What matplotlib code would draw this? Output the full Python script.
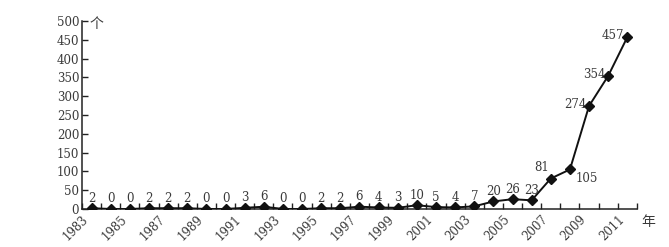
import matplotlib
matplotlib.use("Agg")
import matplotlib.pyplot as plt
import numpy as np

plt.rcParams['font.family'] = ['DejaVu Serif', 'Noto Sans CJK SC']

years = list(range(1983, 2012))
counts = [2, 0, 0, 2, 2, 2, 0, 0, 3, 6, 0, 0, 2, 2, 6, 4, 3, 10, 5, 4, 7,
          20, 26, 23, 81, 105, 274, 354, 457]
y_ticks = list(range(0, 501, 50))

fig = plt.figure(figsize=(6.69, 2.47), dpi=100)
ax = fig.add_axes([0.1226, 0.154, 0.8294, 0.761])

x = np.arange(len(years))
ax.plot(x, counts, color='#111111', lw=1.4, marker='D', ms=5, zorder=3)

fs = 8.5
txt = '#3a3a3a'
# labels: most above the point, a few to the side
for xi, v in zip(x, counts):
    if v == 105:
        ax.annotate(str(v), (xi, v), xytext=(4, -2), textcoords='offset points',
                    ha='left', va='top', fontsize=fs, color=txt)
    elif v in (274, 354, 457):
        ax.annotate(str(v), (xi, v), xytext=(-2, 1), textcoords='offset points',
                    ha='right', va='center', fontsize=fs, color=txt)
    elif v == 81:
        ax.annotate(str(v), (xi, v), xytext=(-1, 3), textcoords='offset points',
                    ha='right', va='bottom', fontsize=fs, color=txt)
    else:
        ax.annotate(str(v), (xi, v), xytext=(0, 2.5), textcoords='offset points',
                    ha='center', va='bottom', fontsize=fs, color=txt)

ax.set_xlim(-0.5, len(years) - 0.5)
ax.set_ylim(0, 500)
ax.set_xticks(np.arange(-0.5, len(years), 1.0))
ax.set_xticklabels([str(y) if (y - 1983) % 2 == 0 else '' for y in years] + [''],
                   rotation=45, ha='right', rotation_mode='anchor', fontsize=fs,
                   color=txt)
ax.set_yticks(y_ticks)
ax.set_yticklabels([str(t) for t in y_ticks], fontsize=fs, color=txt)
ax.tick_params(axis='both', direction='in', length=4, width=1, color='#222222', pad=2)
ax.tick_params(axis='x', pad=3)

for s in ['top', 'right']:
    ax.spines[s].set_visible(False)
for s in ['left', 'bottom']:
    ax.spines[s].set_linewidth(1.1)
    ax.spines[s].set_color('#222222')

ax.text(0.014, 0.985, '个', transform=ax.transAxes, fontsize=10, ha='left', va='center',
        color=txt)
ax.text(1.008, -0.07, '年', transform=ax.transAxes, fontsize=10, ha='left', va='center',
        color=txt)

fig.savefig('out.png', dpi=100)
